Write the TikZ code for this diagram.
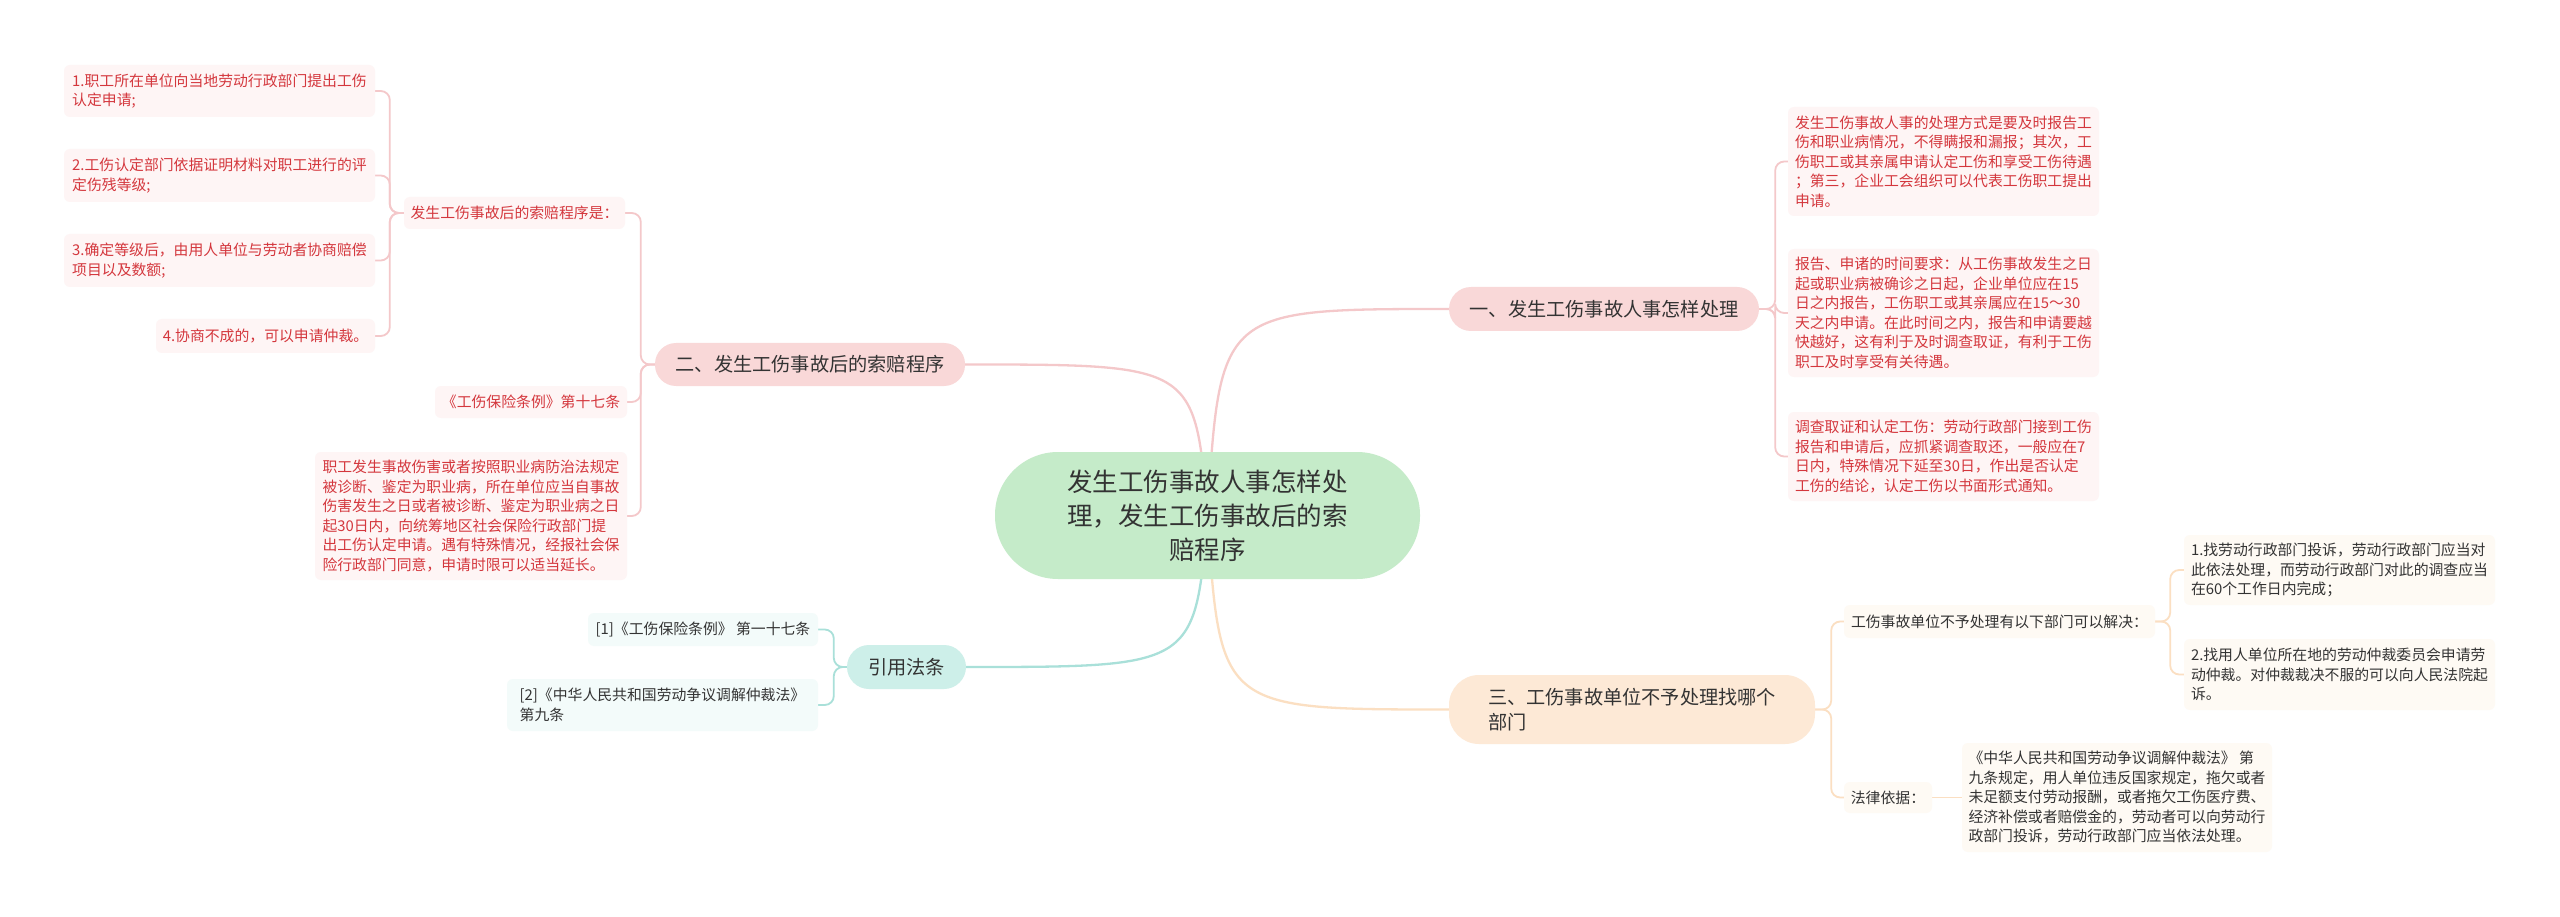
\documentclass[tikz,border=0pt]{standalone}
\usepackage{fontspec}
\setmainfont{Noto Sans CJK SC}
\usetikzlibrary{backgrounds}
\definecolor{centerfill}{HTML}{C5EBC9}
\definecolor{pinkfill}{HTML}{F9D8D8}
\definecolor{mintfill}{HTML}{CDEFE9}
\definecolor{peachfill}{HTML}{FDE9D6}
\definecolor{pinkline}{HTML}{F4C8CA}
\definecolor{mintline}{HTML}{A9E0D9}
\definecolor{peachline}{HTML}{FBDFC2}
\definecolor{redtxt}{HTML}{D4373D}
\definecolor{darktxt}{HTML}{333333}
\definecolor{leafpink}{HTML}{FEF5F5}
\definecolor{leafpeach}{HTML}{FEFAF4}
\definecolor{leafmint}{HTML}{F3FBFA}
\tikzset{
  leaf/.style={rounded corners=6pt, inner sep=0pt, align=left, font=\fontsize{14.85}{19.5}\selectfont},
  leafR/.style={leaf, fill=leafpink, text=redtxt},
  leafO/.style={leaf, fill=leafpeach, text=darktxt},
  leafM/.style={leaf, fill=leafmint, text=darktxt},
  mainnode/.style={inner sep=0pt, font=\fontsize{19.2}{25}\selectfont, text=darktxt, align=left},
  curveline/.style={line width=2.3pt},
  subline/.style={line width=1.8pt, rounded corners=9pt},
}
\begin{document}
\begin{tikzpicture}[x=1pt,y=-1pt]
\useasboundingbox (0,0) rectangle (2560,917);
% central node
\node[inner sep=0pt, fill=centerfill, rounded corners=63pt, minimum width=425pt, minimum height=127pt,
      align=center, text=darktxt, font=\fontsize{25.5}{34}\selectfont] (c) at (1207.5,515.5)
      {发生工伤事故人事怎样处\\理，发生工伤事故后的索\\赔程序};
% main branches
\node[mainnode, fill=pinkfill, rounded corners=22pt, minimum width=310pt, minimum height=44pt] (b1) at (1604,309) {一、发生工伤事故人事怎样处理};
\node[mainnode, fill=pinkfill, rounded corners=21pt, minimum width=310pt, minimum height=43pt] (b2) at (810,364.5) {二、发生工伤事故后的索赔程序};
\node[mainnode, fill=mintfill, rounded corners=22pt, minimum width=119pt, minimum height=44pt] (b3) at (906.5,667) {引用法条};
\node[mainnode, fill=peachfill, rounded corners=30pt, minimum width=366pt, minimum height=69pt] (b4) at (1632,709.5) {三、工伤事故单位不予处理找哪个\\部门};
% branch 1 children
\node[leafR, minimum width=311pt, minimum height=109pt] (r1) at (1943.5,161.5)
 {发生工伤事故人事的处理方式是要及时报告工\\伤和职业病情况，不得瞒报和漏报；其次，工\\伤职工或其亲属申请认定工伤和享受工伤待遇\\；第三，企业工会组织可以代表工伤职工提出\\申请。};
\node[leafR, minimum width=311pt, minimum height=128pt] (r2) at (1943.5,313)
 {报告、申诸的时间要求：从工伤事故发生之日\\起或职业病被确诊之日起，企业单位应在15\\日之内报告，工伤职工或其亲属应在15～30\\天之内申请。在此时间之内，报告和申请要越\\快越好，这有利于及时调查取证，有利于工伤\\职工及时享受有关待遇。};
\node[leafR, minimum width=311pt, minimum height=89pt] (r3) at (1943.5,456.5)
 {调查取证和认定工伤：劳动行政部门接到工伤\\报告和申请后，应抓紧调查取还，一般应在7\\日内，特殊情况下延至30日，作出是否认定\\工伤的结论，认定工伤以书面形式通知。};
% branch 2 children
\node[leafR, minimum width=221pt, minimum height=32pt] (s1) at (514.5,213) {发生工伤事故后的索赔程序是：};
\node[leafR, minimum width=192pt, minimum height=32pt] (s2) at (531,402) {《工伤保险条例》第十七条};
\node[leafR, minimum width=312pt, minimum height=128pt] (s3) at (471,516)
 {职工发生事故伤害或者按照职业病防治法规定\\被诊断、鉴定为职业病，所在单位应当自事故\\伤害发生之日或者被诊断、鉴定为职业病之日\\起30日内，向统筹地区社会保险行政部门提\\出工伤认定申请。遇有特殊情况，经报社会保\\险行政部门同意，申请时限可以适当延长。};
\node[leafR, minimum width=311pt, minimum height=52pt] (t1) at (219.5,91) {1.职工所在单位向当地劳动行政部门提出工伤\\认定申请;};
\node[leafR, minimum width=311pt, minimum height=53pt] (t2) at (219.5,175.5) {2.工伤认定部门依据证明材料对职工进行的评\\定伤残等级;};
\node[leafR, minimum width=311pt, minimum height=53pt] (t3) at (219.5,260.5) {3.确定等级后，由用人单位与劳动者协商赔偿\\项目以及数额;};
\node[leafR, minimum width=219pt, minimum height=34pt] (t4) at (265.5,336) {4.协商不成的，可以申请仲裁。};
% branch 3 children
\node[leafM, minimum width=230pt, minimum height=33pt] (m1) at (703,629.5) {[1]《工伤保险条例》 第一十七条};
\node[leafM, minimum width=311pt, minimum height=52pt] (m2) at (662.5,705) {[2]《中华人民共和国劳动争议调解仲裁法》\\第九条};
% branch 4 children
\node[leafO, minimum width=311pt, minimum height=33pt] (o1) at (1999.5,621.5) {工伤事故单位不予处理有以下部门可以解决：};
\node[leafO, minimum width=88pt, minimum height=31pt] (o2) at (1888,797.5) {法律依据：};
\node[leafO, minimum width=311pt, minimum height=70pt] (p1) at (2339.5,570)
 {1.找劳动行政部门投诉，劳动行政部门应当对\\此依法处理，而劳动行政部门对此的调查应当\\在60个工作日内完成；};
\node[leafO, minimum width=311pt, minimum height=71pt] (p2) at (2339.5,674.5)
 {2.找用人单位所在地的劳动仲裁委员会申请劳\\动仲裁。对仲裁裁决不服的可以向人民法院起\\诉。};
\node[leafO, minimum width=310pt, minimum height=109pt] (q1) at (2117,797.5)
 {《中华人民共和国劳动争议调解仲裁法》 第\\九条规定，用人单位违反国家规定，拖欠或者\\未足额支付劳动报酬，或者拖欠工伤医疗费、\\经济补偿或者赔偿金的，劳动者可以向劳动行\\政部门投诉，劳动行政部门应当依法处理。};
\begin{pgfonlayer}{background}
\fill[white] (0,0) rectangle (2560,917);
\draw[curveline, pinkline] (c.center) .. controls (1220,309) .. (b1.west);
\draw[curveline, pinkline] (c.center) .. controls (1195,364.5) .. (b2.east);
\draw[curveline, mintline] (c.center) .. controls (1195,667) .. (b3.east);
\draw[curveline, peachline] (c.center) .. controls (1220,709.5) .. (b4.west);
\foreach \n in {r1,r2,r3} \draw[subline, pinkline] (b1.east) -- ++(16,0) |- (\n.west);
\foreach \n in {s1,s2,s3} \draw[subline, pinkline] (b2.west) -- ++(-14,0) |- (\n.east);
\foreach \n in {t1,t2,t3,t4} \draw[subline, pinkline] (s1.west) -- ++(-14,0) |- (\n.east);
\foreach \n in {m1,m2} \draw[subline, mintline] (b3.west) -- ++(-13,0) |- (\n.east);
\foreach \n in {o1,o2} \draw[subline, peachline] (b4.east) -- ++(16,0) |- (\n.west);
\foreach \n in {p1,p2} \draw[subline, peachline] (o1.east) -- ++(15,0) |- (\n.west);
\draw[subline, peachline] (o2.east) -- (q1.west);
\end{pgfonlayer}
\end{tikzpicture}
\end{document}
